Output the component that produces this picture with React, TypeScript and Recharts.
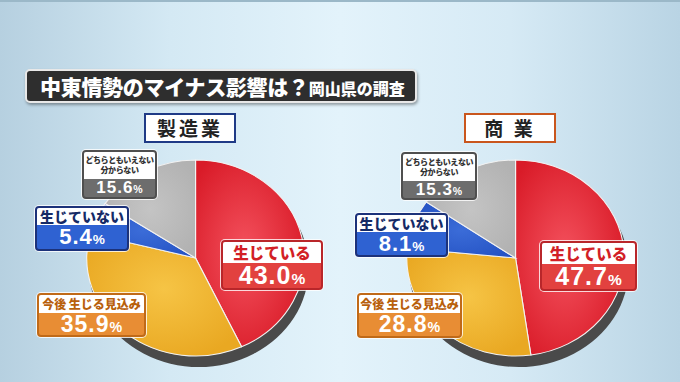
import React from 'react';
import { Cell, Pie, PieChart } from 'recharts';

const CATEGORIES = ['生じている', '今後 生じる見込み', '生じていない', 'どちらともいえない\n分からない'];
const MANUFACTURING = [43.0, 35.9, 5.4, 15.6];
const COMMERCE = [47.7, 28.8, 8.1, 15.3];
const PANEL_TITLES = ['製造業', '商 業'];

const SLICE_FILLS = ['url(#gRed)', 'url(#gYellow)', 'url(#gBlue)', 'url(#gGray)'];

// label box look per category
const BOX_STYLES = [
  { text: '#d21f26', fill: '#e2413f', border: '#b9262a', labelSize: 15.5, numSize: 25, ls: 0 },
  { text: '#b8600c', fill: '#e88d34', border: '#c06a18', labelSize: 12, numSize: 23, ls: 0 },
  { text: '#152a66', fill: '#2f62d2', border: '#1c327a', labelSize: 14, numSize: 22, ls: 0 },
  { text: '#333333', fill: '#6d6d6d', border: '#4f4f4f', labelSize: 8, numSize: 17, ls: -0.4 },
];

// box geometry per pie, same category order
const LEFT_BOXES = [
  { x: 221, y: 240, w: 102, top: 21, h: 50 },
  { x: 37, y: 293, w: 109, top: 18, h: 44 },
  { x: 35, y: 206, w: 94, top: 17, h: 45 },
  { x: 82, y: 150, w: 75, top: 27, h: 49 },
];
const RIGHT_BOXES = [
  { x: 540, y: 241, w: 97, top: 21, h: 50 },
  { x: 357, y: 293, w: 105, top: 18, h: 45 },
  { x: 355, y: 213, w: 93, top: 17, h: 44 },
  { x: 401, y: 152, w: 76, top: 27, h: 48 },
];

const JP = '"Noto Sans CJK JP", "Noto Sans", sans-serif';
const NUM = '"Liberation Sans", Arial, sans-serif';

const R = 98;
const SCALE_X = 1.11;

function PieBlock({ values, cx, cy }: { values: number[]; cx: number; cy: number }) {
  const data = CATEGORIES.map((c, i) => ({ name: c, value: values[i] }));
  const size = 250;
  const c = size / 2;
  return (
    <div
      style={{
        position: 'absolute',
        left: cx - c,
        top: cy - c,
        width: size,
        height: size,
        transform: `scaleX(${SCALE_X})`,
        transformOrigin: 'center',
      }}
    >
      <PieChart width={size} height={size}>
        <defs>
          <radialGradient id="gRed" cx="45%" cy="50%" r="60%">
            <stop offset="0%" stopColor="#f4525e" />
            <stop offset="100%" stopColor="#d91b28" />
          </radialGradient>
          <radialGradient id="gYellow" cx="50%" cy="45%" r="60%">
            <stop offset="0%" stopColor="#f6c445" />
            <stop offset="100%" stopColor="#e9a822" />
          </radialGradient>
          <radialGradient id="gBlue" cx="50%" cy="50%" r="60%">
            <stop offset="0%" stopColor="#3b6cd8" />
            <stop offset="100%" stopColor="#2553c4" />
          </radialGradient>
          <radialGradient id="gGray" cx="50%" cy="50%" r="60%">
            <stop offset="0%" stopColor="#c4c4c4" />
            <stop offset="100%" stopColor="#b2b2b2" />
          </radialGradient>
        </defs>
        <Pie
          data={[{ value: 1 }]}
          dataKey="value"
          cx={c + 3}
          cy={c + 10}
          outerRadius={R + 1}
          fill="#4a4a4a"
          stroke="none"
          isAnimationActive={false}
        />
        <Pie
          data={data}
          dataKey="value"
          nameKey="name"
          cx={c}
          cy={c}
          outerRadius={R}
          startAngle={90}
          endAngle={-270}
          stroke="#f2f2f2"
          strokeWidth={1}
          isAnimationActive={false}
        >
          {data.map((_, i) => (
            <Cell key={i} fill={SLICE_FILLS[i]} />
          ))}
        </Pie>
      </PieChart>
    </div>
  );
}

function LabelBox({ idx, value, box }: { idx: number; value: number; box: { x: number; y: number; w: number; top: number; h: number } }) {
  const s = BOX_STYLES[idx];
  const lines = CATEGORIES[idx].split('\n');
  return (
    <div
      style={{
        position: 'absolute',
        left: box.x,
        top: box.y,
        width: box.w,
        height: box.h,
        boxSizing: 'border-box',
        border: `2px solid ${s.border}`,
        borderRadius: 4,
        overflow: 'hidden',
        boxShadow: '0 0 0 1px rgba(255,255,255,0.8)',
        background: s.fill,
      }}
    >
      <div
        style={{
          height: box.top,
          background: '#fff',
          color: s.text,
          fontFamily: JP,
          fontWeight: 900,
          fontSize: s.labelSize,
          letterSpacing: s.ls,
          lineHeight: lines.length > 1 ? `${s.labelSize + 2}px` : `${box.top}px`,
          textAlign: 'center',
          whiteSpace: 'nowrap',
          paddingTop: lines.length > 1 ? 3 : 0,
          boxSizing: 'border-box',
        }}
      >
        {lines.map((l) => (
          <div key={l}>{l}</div>
        ))}
      </div>
      <div
        style={{
          height: box.h - box.top - 4,
          lineHeight: `${box.h - box.top - 4}px`,
          color: '#fff',
          fontFamily: NUM,
          fontWeight: 700,
          fontSize: s.numSize,
          textAlign: 'center',
          whiteSpace: 'nowrap',
          letterSpacing: 1,
        }}
      >
        {value.toFixed(1)}
        <span style={{ fontSize: s.numSize * 0.62, letterSpacing: 0 }}>%</span>
      </div>
    </div>
  );
}

function PanelTitle({ text, x, border }: { text: string; x: number; border: string }) {
  return (
    <div
      style={{
        position: 'absolute',
        left: x,
        top: 113,
        width: 92,
        height: 30,
        boxSizing: 'border-box',
        border: `2px solid ${border}`,
        background: '#fff',
        fontFamily: JP,
        fontWeight: 700,
        fontSize: 19,
        lineHeight: '26px',
        textAlign: 'center',
        letterSpacing: 3,
        color: '#222',
        whiteSpace: 'pre',
      }}
    >
      {text}
    </div>
  );
}

export default function App() {
  return (
    <div
      style={{
        position: 'fixed',
        left: 0,
        top: 0,
        width: 680,
        height: 382,
        overflow: 'hidden',
        background:
          'linear-gradient(90deg, #b6d0e0 0%, #d4e9f4 25%, #e3f3fb 50%, #d6eaf5 75%, #b9d4e4 100%)',
      }}
    >
      <div style={{ position: 'absolute', left: 0, top: 0, width: 680, height: 2, background: '#9bb8c8' }} />
      <div
        style={{
          position: 'absolute',
          left: 25,
          top: 69,
          width: 392,
          height: 34,
          boxSizing: 'border-box',
          background: '#2e2e2e',
          border: '2px solid #e8e8e8',
          borderRadius: 5,
          boxShadow: '1px 2px 3px rgba(0,0,0,0.35)',
          color: '#fff',
          fontFamily: JP,
          fontWeight: 900,
          whiteSpace: 'nowrap',
          paddingLeft: 13,
          lineHeight: '30px',
        }}
      >
        <span style={{ fontSize: 21, letterSpacing: -0.3 }}>中東情勢のマイナス影響は？</span>
        <span style={{ fontSize: 16 }}>岡山県の調査</span>
      </div>

      <PanelTitle text={PANEL_TITLES[0]} x={144} border="#1f3a86" />
      <PanelTitle text={PANEL_TITLES[1]} x={464} border="#c9561d" />

      <PieBlock values={MANUFACTURING} cx={190} cy={253} />
      <PieBlock values={COMMERCE} cx={510} cy={253} />

      {MANUFACTURING.map((v, i) => (
        <LabelBox key={'m' + i} idx={i} value={v} box={LEFT_BOXES[i]} />
      ))}
      {COMMERCE.map((v, i) => (
        <LabelBox key={'c' + i} idx={i} value={v} box={RIGHT_BOXES[i]} />
      ))}
    </div>
  );
}
